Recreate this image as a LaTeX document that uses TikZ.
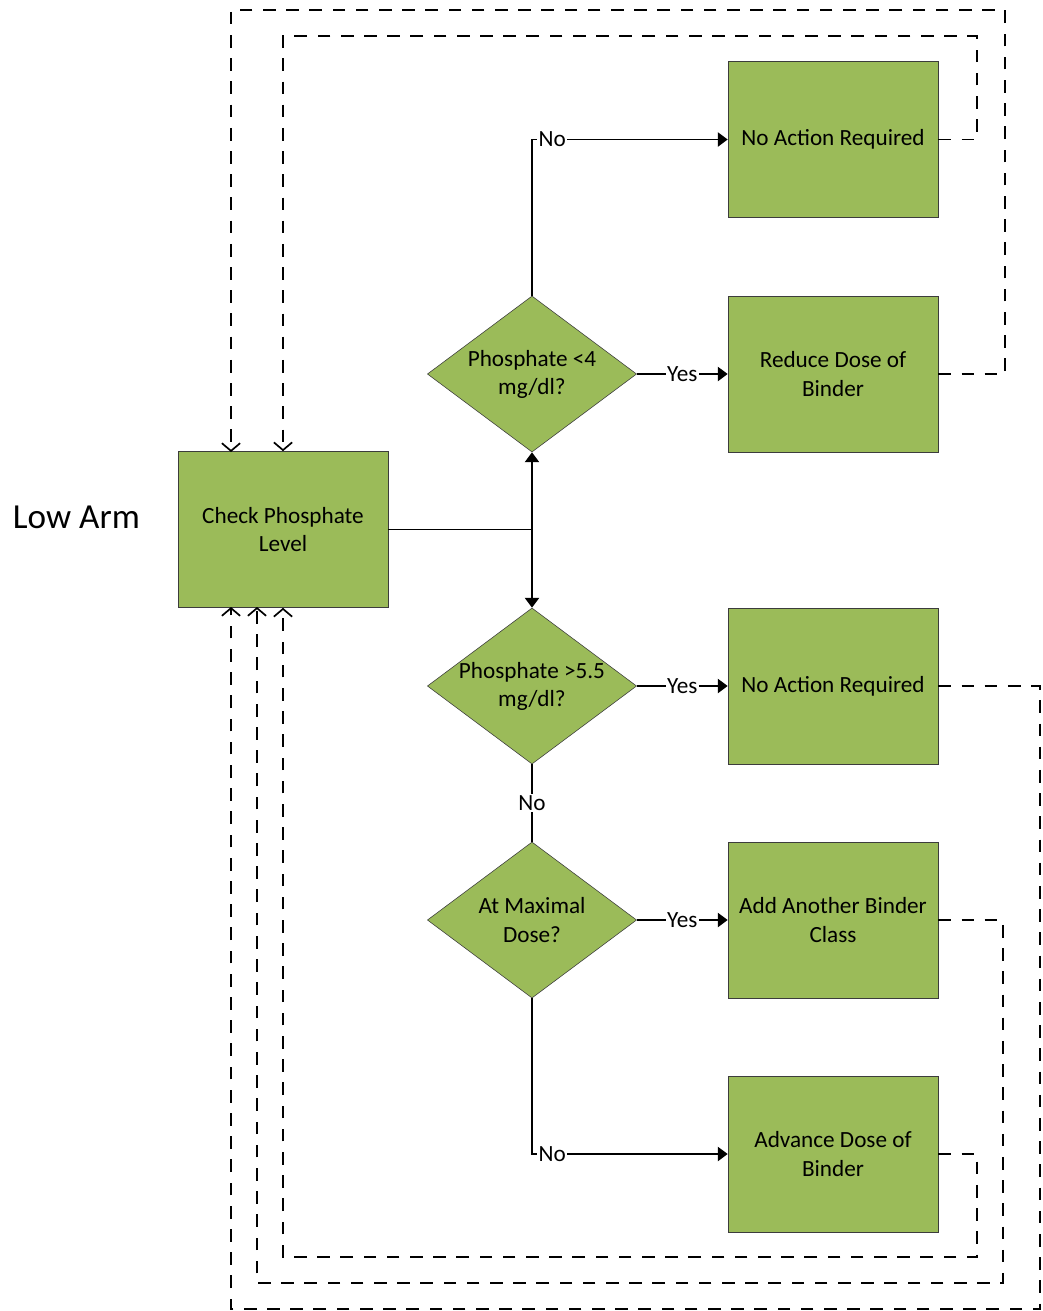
\documentclass[tikz,border=0pt]{standalone}
\usepackage{fontspec}
\setmainfont{Carlito}
\usetikzlibrary{shapes.geometric,arrows.meta}
\definecolor{lgrn}{RGB}{155,187,89}
\definecolor{dedge}{RGB}{60,60,60}
\tikzstyle{flow chart}=[
    x=0.025cm, y=-0.025cm,
    actbox/.style={rectangle, draw=dedge, fill=lgrn, thin, minimum width=5.25cm,
        minimum height=3.9cm, inner sep=0pt, align=center, font={\fontsize{16.5}{20}\selectfont}},
    decision/.style={diamond, draw=dedge, fill=lgrn, thin, aspect=1.34, minimum width=5.23cm,
        minimum height=3.9cm, inner xsep=-30pt, inner ysep=0pt, align=center,
        font={\fontsize{16.5}{20}\selectfont}},
    flow line/.style={black, line width=1.4pt},
    flow arrow/.style={flow line, -{Triangle[length=7pt,width=10pt]}},
    feedback/.style={black, line width=1.4pt, dash pattern=on 9pt off 7.5pt,
        -{Straight Barb[length=5.5pt,width=13pt,line width=1.2pt]}},
    lbl/.style={fill=white, inner sep=1pt, font={\fontsize{16.5}{19}\selectfont}},
]
\begin{document}
\begin{tikzpicture}[flow chart]
    \useasboundingbox (0,0) rectangle (1042,1311);

    \node[anchor=west, font={\fontsize{25}{30}\selectfont}] (arm) at (8,517) {Low Arm};

    \node[actbox] (check) at (283,529.5) {Check Phosphate\\Level};

    \node[decision] (dlow)  at (532,374) {Phosphate <4\\mg/dl?};
    \node[decision] (dhigh) at (532,686) {Phosphate >5.5\\mg/dl?};
    \node[decision] (dmax)  at (532,920) {At Maximal\\Dose?};

    \node[actbox] (noneA)   at (833,139.5) {No Action Required};
    \node[actbox] (reduce)  at (833,374)   {Reduce Dose of\\Binder};
    \node[actbox] (noneB)   at (833,686)   {No Action Required};
    \node[actbox] (addcls)  at (833,920)   {Add Another Binder\\Class};
    \node[actbox] (advance) at (833,1154)  {Advance Dose of\\Binder};

    % main flow
    \coordinate (split) at (dlow.south |- check.east);
    \draw[flow line] (check.east) -- (split);
    \draw[flow arrow] (split) -- (dlow.south);
    \draw[flow arrow] (split) -- (dhigh.north);

    \draw[flow arrow] (dlow.north) |- node[pos=0.5, anchor=west, xshift=3pt, lbl] {No} (noneA.west);
    \draw[flow arrow] (dlow.east) -- node[lbl] {Yes} (reduce.west);
    \draw[flow arrow] (dhigh.east) -- node[lbl] {Yes} (noneB.west);
    \draw[flow line] (dhigh.south) -- node[lbl] {No} (dmax.north);
    \draw[flow arrow] (dmax.east) -- node[lbl] {Yes} (addcls.west);
    \draw[flow arrow] (dmax.south) |- node[pos=0.5, anchor=west, xshift=3pt, lbl] {No} (advance.west);

    % back to check
    \coordinate (topA) at (231,452);
    \coordinate (botA) at (231,607);
    \coordinate (botB) at (257,607);
    \draw[feedback] (noneA.east) -| (977,36) -| (check.north);
    \draw[feedback] (reduce.east) -| (1005,10) -| (topA);
    \draw[feedback] (noneB.east) -| (1040,1309) -| (botA);
    \draw[feedback] (addcls.east) -| (1003,1283) -| (botB);
    \draw[feedback] (advance.east) -| (977,1257) -| (check.south);
\end{tikzpicture}
\end{document}
